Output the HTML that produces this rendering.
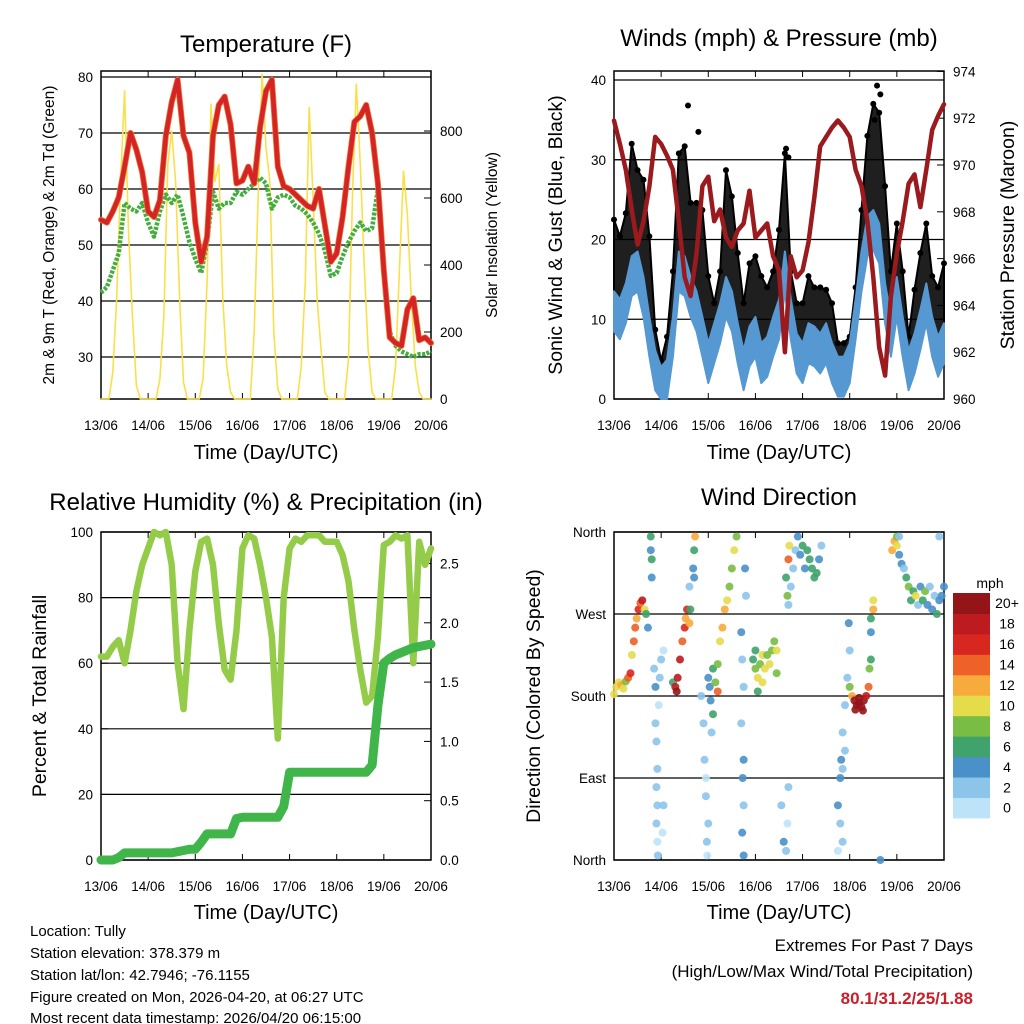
<!DOCTYPE html>
<html><head><meta charset="utf-8">
<style>
html,body{margin:0;padding:0;background:#fff;}
svg{display:block;font-family:"Liberation Sans",sans-serif;}
</style></head>
<body>
<svg id="c" width="1024" height="1024" viewBox="0 0 1024 1024" xmlns="http://www.w3.org/2000/svg">
<rect x="0" y="0" width="1024" height="1024" fill="#fff"/>
<text x="266" y="52" font-size="24" text-anchor="middle">Temperature (F)</text>
<text x="779" y="46" font-size="24" text-anchor="middle">Winds (mph) &amp; Pressure (mb)</text>
<text x="266" y="510" font-size="24" text-anchor="middle">Relative Humidity (%) &amp; Precipitation (in)</text>
<text x="779" y="505" font-size="24" text-anchor="middle">Wind Direction</text>
<text x="266" y="459" font-size="20" text-anchor="middle">Time (Day/UTC)</text>
<text x="779" y="459" font-size="20" text-anchor="middle">Time (Day/UTC)</text>
<text x="266" y="919" font-size="20" text-anchor="middle">Time (Day/UTC)</text>
<text x="779" y="919" font-size="20" text-anchor="middle">Time (Day/UTC)</text>
<text transform="translate(54,235) rotate(-90)" font-size="15.5" text-anchor="middle">2m &amp; 9m T (Red, Orange) &amp; 2m Td (Green)</text>
<text transform="translate(497,235) rotate(-90)" font-size="15.5" text-anchor="middle">Solar Insolation (Yellow)</text>
<text transform="translate(562,235) rotate(-90)" font-size="19.5" text-anchor="middle">Sonic Wind &amp; Gust (Blue, Black)</text>
<text transform="translate(1014,235) rotate(-90)" font-size="19.5" text-anchor="middle">Station Pressure (Maroon)</text>
<text transform="translate(46,696) rotate(-90)" font-size="19.5" text-anchor="middle">Percent &amp; Total Rainfall</text>
<text transform="translate(540,696) rotate(-90)" font-size="19.5" text-anchor="middle">Direction (Colored By Speed)</text>
<g font-size="15">
<text x="30" y="936">Location: Tully</text>
<text x="30" y="958">Station elevation: 378.379 m</text>
<text x="30" y="980">Station lat/lon: 42.7946; -76.1155</text>
<text x="30" y="1002">Figure created on Mon, 2026-04-20, at 06:27 UTC</text>
<text x="30" y="1023">Most recent data timestamp: 2026/04/20 06:15:00</text>
</g>
<g font-size="17" text-anchor="end">
<text x="973" y="951">Extremes For Past 7 Days</text>
<text x="973" y="977">(High/Low/Max Wind/Total Precipitation)</text>
<text x="973" y="1004" fill="#c8202a" font-weight="bold">80.1/31.2/25/1.88</text>
</g>
<g id="layer"></g>
</svg>
<script>
const days = ["13/06","14/06","15/06","16/06","17/06","18/06","19/06","20/06"];
const tempF = [54.5,54,56,58.5,64,70,67,63,56,55,58,69.5,75.5,79.5,69.5,66.5,54,47,51.5,69.5,75,76.5,71.5,61,61.5,64,61,71,77.5,79.5,64,60.5,60,59,58,57,56.5,60,53.5,47,48.5,55,64,72,73,75,70,61,45.5,33.5,32.5,32,38.5,40.5,33,33.5,32.5];
const dewF = [41.5,42.5,45.5,48.5,57.5,56.5,56,57.5,54,51.5,56,59,57.5,59,55,50.5,47.5,45,50.5,59.5,56.5,57.5,57.5,59.5,59,60,61,62,61,56.5,58.5,59,58.5,57,56.5,55.5,54,52,49,44.5,45,48,50.5,52.5,54,52.5,53,60,45.5,34.5,32,31,30.5,30,30.5,30.5,31];
const solar = [0,0,0,80,300,650,920,500,250,40,0,0, 0,0,0,60,250,700,800,650,300,50,0,0, 0,0,60,350,880,650,700,300,100,20,0,0, 0,0,0,200,600,970,750,650,200,30,0,0, 0,0,0,100,350,870,600,300,150,20,0,0, 0,0,0,120,600,940,700,400,150,20,0,0, 0,0,0,100,400,680,550,300,100,20,0,0, 0];
const pressure = [971.9,970.9,969.8,968.1,966.6,967.6,969.1,971.2,970.9,970.4,969.8,967.6,965.2,964.4,966.2,969.1,969.5,967.6,968.1,966.9,966.5,967.2,967.5,968.9,966.9,967.2,967.5,966.1,965.5,962,966.1,965.2,965.5,966.7,968.6,970.8,971.2,971.6,971.9,971.6,971.2,969.8,969.1,967.6,965.2,962.2,961,964.4,966.2,967.6,969.2,969.6,968.2,969.8,971.5,972.1,972.6];
const sonic = [11,10,12,15.4,16,12.8,7.8,3.6,1.5,2.4,7.8,16,15.4,12.8,11,7.8,4.5,7,9.5,12.8,11,7,3.6,6.6,7.8,4.5,5.3,7.8,10,16,10,5.7,4.5,7,6.6,5.7,7,4.5,2.8,2.8,4.5,10,16,20.4,21.2,19.5,12,7.8,12.8,7.8,3.6,5.7,8.7,12,7.8,5.3,7];
const gust = [22.5,20.4,23.3,32,28.7,27.5,20.4,8.7,4.8,7.8,16,30.8,31.7,24.6,24.6,23.7,15.4,12,16,28.7,25.4,18.3,12,17,17.9,15.4,14,16,21.2,30.8,16,12,12,15.4,14,14,13.7,12,7,7,7.8,14,23.7,33,37,35.9,26.7,16,22,16,7.8,13.7,18.3,22,15.4,14,17];
const gustOutT = [1.57,1.79,3.65,3.7,5.58,5.65,5.53];
const gustOutV = [36.8,33.5,31.4,30.3,39.3,38.2,35];
const rh = [62,62,65,67,60,70,82,90,95,100,99,100,90,60,46,70,88,97,98,90,72,58,55,70,95,99,98,90,80,68,37,80,95,98,97,99,99,99,97,97,97,93,85,70,58,48,50,68,96,97,99,98,99,60,97,90,95];
const rain = [0,0,0,0.02,0.06,0.06,0.06,0.06,0.06,0.06,0.06,0.06,0.06,0.07,0.08,0.09,0.09,0.15,0.22,0.22,0.22,0.22,0.22,0.35,0.36,0.36,0.36,0.36,0.36,0.36,0.36,0.45,0.74,0.74,0.74,0.74,0.74,0.74,0.74,0.74,0.74,0.74,0.74,0.74,0.74,0.74,0.8,1.3,1.66,1.7,1.73,1.75,1.77,1.79,1.8,1.81,1.82];
const dirT = [0,0.05,0.1,0.15,0.2,0.25,0.3,0.35,0.38,0.42,0.45,0.48,0.52,0.56,0.6,0.65,0.68,0.72,
0.78,0.78,0.8,0.8,0.85,0.88,0.88,0.9,0.92,0.9,0.92,0.9,0.92,0.93,0.95,0.97,1.0,1.05,1.03,1.05,
1.25,1.3,1.33,1.35,1.4,1.45,1.5,1.52,1.55,1.6,1.62,1.6,1.68,1.7,1.72,1.7,
1.85,1.9,1.92,1.95,1.95,2.0,1.97,1.98,2.0,2.03,2.05,2.1,2.07,
2.1,2.15,2.2,2.2,2.25,2.3,2.35,2.4,2.45,2.5,2.55,2.6,
2.7,2.72,2.75,2.7,2.75,2.73,2.75,2.72,2.75,2.8,2.78,
2.95,3.0,3.05,3.0,3.1,3.15,3.2,3.25,3.3,3.35,3.4,3.45,3.45,3.05,3.15,
3.55,3.6,3.65,3.7,3.68,
3.65,3.7,3.72,3.7,3.75,3.8,3.85,3.9,3.95,4.0,4.05,4.1,4.15,4.2,4.25,4.3,4.35,4.4,3.68,
4.75,4.8,4.85,4.82,4.9,4.85,4.9,4.8,4.85,4.75,4.95,5.0,4.98,
5.0,5.05,5.1,5.15,5.2,5.25,5.3,5.35,5.4,5.42,5.45,5.45,5.45,5.5,5.5,5.2,5.12,5.28,
5.65,
5.9,5.95,6.0,6.05,6.1,6.15,6.2,6.25,6.3,6.35,6.4,6.45,6.5,6.55,6.6,6.65,6.7,6.75,6.8,6.85,6.9,6.95,7.0,6.0,6.05,6.9];
const dirDeg = [182,190,195,192,188,196,200,205,225,240,255,265,275,282,285,275,270,255,
355,340,330,310,210,190,150,130,100,80,60,40,20,5,170,200,220,230,30,60,
195,190,185,200,220,240,255,265,275,260,275,300,320,340,355,310,
180,150,110,90,70,40,20,5,200,190,175,160,140,
210,195,185,215,240,255,275,285,300,320,340,355,
250,220,190,150,110,90,60,30,5,290,320,
220,210,200,230,215,225,210,225,215,230,240,205,230,185,195,
60,20,10,80,40,
310,330,345,280,300,320,340,355,335,345,320,340,330,320,310,315,330,345,290,
60,90,100,110,120,140,170,40,20,10,200,230,260,
190,180,175,170,172,168,175,180,190,210,220,250,265,285,275,178,165,164,
0,
340,350,345,335,325,320,310,300,285,295,290,280,300,285,295,280,300,275,290,270,285,290,300,355,355,355];
const dirSpd = [10,11,10,12,11,8,14,17,10,14,15,13,16,15,18,10,6,5,
6,5,7,4,2,4,3,2,3,2,3,2,1,2,1,3,2,1,1,2,
7,19,20,18,18,15,17,13,16,12,6,2,5,7,12,4,
2,3,2,1,2,3,2,1,5,4,4,6,3,
6,8,14,9,11,13,12,10,8,9,10,9,
4,3,2,2,4,4,3,4,4,3,4,
6,8,10,6,9,10,10,8,11,9,8,8,10,6,11,
3,4,2,2,1,
6,15,10,3,2,3,2,5,4,6,5,6,7,6,6,7,5,3,8,
4,4,3,4,3,2,2,3,2,1,3,2,4,
9,12,20,20,20,20,20,18,14,8,6,4,7,10,12,20,20,20,
4,
12,13,10,5,4,3,6,8,7,6,10,3,4,6,8,4,2,5,3,6,5,4,4,8,3,2];
const speedColors = ["#bde3f8","#8cc4ea","#4a90c9","#3fa36b","#79bd45","#e4dc4b","#f7ab3c","#ee6127","#d8271f","#bd1b1f","#941517"];
const speedLabels = ["0","2","4","6","8","10","12","14","16","18","20+"];
const tempTicks = [30,40,50,60,70,80];
const solarTicks = [0,200,400,600,800];
const windTicks = [0,10,20,30,40];
const presTicks = [960,962,964,966,968,970,972,974];
const rhTicks = [0,20,40,60,80,100];
const rainTicks = ["0.0","0.5","1.0","1.5","2.0","2.5"];
const dirTicks = [0,90,180,270,360];
const dirNames = ["North","East","South","West","North"];

const NS="http://www.w3.org/2000/svg";
const layer=document.getElementById("layer");
function mk(tag,attrs,parent){const e=document.createElementNS(NS,tag);for(const k in attrs)e.setAttribute(k,attrs[k]);(parent||layer).appendChild(e);return e;}
const DAYW=47.14;
const P1={x0:101,x1:431,y0:71,y1:399}, P2={x0:614,x1:944,y0:71,y1:399};
const P3={x0:101,x1:431,y0:532,y1:860}, P4={x0:614,x1:944,y0:532,y1:860};
const xT1=t=>P1.x0+t*DAYW, xT2=t=>P2.x0+t*DAYW;
const yTemp=v=>77+(80-v)*5.6, ySol=v=>399-v*0.335;
const yWind=v=>399-Math.max(0,v)*7.975, yPres=v=>399-(v-960)*23.4;
const yRH=v=>860-v*3.28, yRain=v=>860-v*118.6;
const yDir=v=>860-v*328/360;

function frame(P,name){
  const r=mk("rect",{x:P.x0,y:P.y0,width:P.x1-P.x0,height:P.y1-P.y0,fill:"none",stroke:"#000","stroke-width":1.5});
  
  
  for(let i=0;i<days.length;i++){
    const x=P.x0+i*DAYW;
    mk("line",{x1:x,y1:P.y1,x2:x,y2:P.y1-6,stroke:"#000"});
    mk("line",{x1:x,y1:P.y0,x2:x,y2:P.y0+6,stroke:"#000"});
    const t=mk("text",{x:x,y:P.y1+31,"font-size":13.5,"text-anchor":"middle"});
    t.textContent=days[i];
    
    
  }
}
function yAxis(P,vals,labels,fy,side,grid){
  vals.forEach((v,i)=>{
    const y=fy(v);
    if(grid) mk("line",{x1:P.x0,y1:y,x2:P.x1,y2:y,stroke:"#000","stroke-width":1.2});
    const xe=side==="l"?P.x0:P.x1;
    mk("line",{x1:xe,y1:y,x2:side==="l"?xe+7:xe-7,y2:y,stroke:"#000"});
    const t=mk("text",{x:side==="l"?P.x0-8:P.x1+9,y:y+5,"font-size":13.5,"text-anchor":side==="l"?"end":"start"});
    t.textContent=labels[i];
    
    
  });
}
function poly(arr,fx,fy,step,attrs,name){
  const pts=arr.map((v,i)=>fx(i*step).toFixed(1)+","+fy(v).toFixed(1)).join(" ");
  const p=mk("polyline",Object.assign({points:pts,fill:"none","stroke-linejoin":"round","stroke-linecap":"round"},attrs));
  
  
  return p;
}
function band(lo,hi,fx,fy,step,fill,op,name){
  const top=hi.map((v,i)=>fx(i*step).toFixed(1)+","+fy(v).toFixed(1));
  const bot=lo.map((v,i)=>fx(i*step).toFixed(1)+","+fy(v).toFixed(1)).reverse();
  const g=mk("polygon",{points:top.concat(bot).join(" "),fill:fill,"fill-opacity":op,stroke:fill,"stroke-width":2,"stroke-linejoin":"round"});
  
  
}

// panel 1
frame(P1,"temperature");
yAxis(P1,tempTicks,tempTicks,yTemp,"l",true);
yAxis(P1,solarTicks,solarTicks,ySol,"r",false);
poly(solar,xT1,ySol,1/12,{stroke:"#f9e04a","stroke-width":1.6},"solar-line");
poly(dewF,xT1,yTemp,0.125,{stroke:"#43ae3e","stroke-width":4.5,"stroke-dasharray":"3 1.5","stroke-linecap":"butt"},"dewpoint-line");
poly(tempF,xT1,yTemp,0.125,{stroke:"#f07a2a","stroke-width":6},"temp-9m-line");
poly(tempF,xT1,yTemp,0.125,{stroke:"#d42428","stroke-width":4.5},"temp-2m-line");

// panel 2
frame(P2,"winds");
yAxis(P2,windTicks,windTicks,yWind,"l",true);
yAxis(P2,presTicks,presTicks,yPres,"r",false);
band(sonic,gust,xT2,yWind,0.125,"#000",0.88,"gust-band");
gust.forEach((v,i)=>{
  const c=mk("circle",{cx:xT2(i*0.125),cy:yWind(v),r:3,fill:"#000"});
  
  
});
gustOutT.forEach((t,i)=>{
  const c=mk("circle",{cx:xT2(t),cy:yWind(gustOutV[i]),r:3,fill:"#000"});
  
  
});
band(sonic.map(v=>v-2.5),sonic.map(v=>v+2.5),xT2,yWind,0.125,"#5598d2",1,"sonic-wind-band");
poly(pressure,xT2,yPres,0.125,{stroke:"#9a1a1e","stroke-width":4.5},"pressure-line");

// panel 3
frame(P3,"humidity");
yAxis(P3,rhTicks,rhTicks,yRH,"l",true);
yAxis(P3,rainTicks.map(Number),rainTicks,yRain,"r",false);
poly(rh,xT1,yRH,0.125,{stroke:"#94cc4a","stroke-width":6.5},"rh-line");
poly(rain,xT1,yRain,0.125,{stroke:"#40b54a","stroke-width":9},"rain-line");

// panel 4
frame(P4,"direction");
yAxis(P4,dirTicks,dirNames,yDir,"l",true);
dirT.forEach((t,i)=>{
  const idx=Math.min(10,Math.floor(dirSpd[i]/2));
  const c=mk("circle",{cx:xT2(t),cy:yDir(dirDeg[i]),r:4,fill:speedColors[idx],"fill-opacity":0.9});
  
  
});
(function(){
  const bx=953,bw=37,btop=593,bh=20.45;
  const lt=mk("text",{x:990,y:588,"font-size":14,"text-anchor":"middle"});
  lt.textContent="mph";
  
  
  speedColors.forEach((c,i)=>{
    const y=btop+(10-i)*bh;
    const r=mk("rect",{x:bx,y:y,width:bw,height:bh+0.5,fill:c});
    
    
    const t=mk("text",{x:1007,y:y+bh/2+5,"font-size":14,"text-anchor":"middle"});
    t.textContent=speedLabels[i];
    
    
  });
})();
</script>
</body></html>
